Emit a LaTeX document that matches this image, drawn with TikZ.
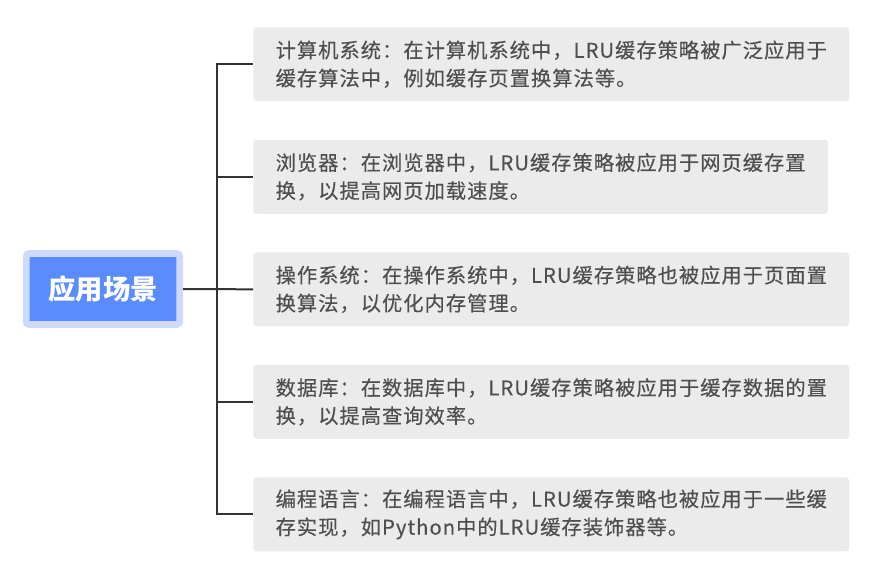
\documentclass[tikz,border=0pt]{standalone}
\usepackage{fontspec}
\usepackage{xcolor}
\usepackage{tikz}
\usetikzlibrary{positioning}
\setmainfont{Noto Sans CJK SC}
\newfontfamily\leaffont[LetterSpace=5,FakeBold=0.3]{Noto Sans CJK SC}
\definecolor{leafgray}{HTML}{EBEBEB}
\definecolor{leaftext}{HTML}{4F4F4F}
\definecolor{rootblue}{HTML}{5B8CFF}
\definecolor{rootrim}{HTML}{CDD9FE}
\definecolor{branchgray}{HTML}{333333}

\begin{document}
\begin{tikzpicture}[
  x=1pt, y=-1pt,
  node distance=28.5pt,
  scene/.style={fill=rootblue, draw=rootrim, line width=4.9pt, rounded corners=2pt,
                minimum width=115.1pt, minimum height=53.25pt, inner sep=0pt,
                text=white, font=\fontsize{20.5pt}{24pt}\selectfont\bfseries},
  usecase/.style={fill=leafgray, rounded corners=2.5pt, minimum height=55.5pt,
                  inner xsep=16.8pt, inner ysep=0pt, align=left, text=leaftext,
                  font=\leaffont\fontsize{15.2pt}{21pt}\selectfont},
  branch/.style={draw=branchgray, line width=1.5pt}
]
  \useasboundingbox (0,0) rectangle (661.5,432.75);

  \node[scene] (app) at (77.25,216.75) {应用场景};

  \node[usecase, anchor=north west] (cs) at (189.75,20.25)
    {计算机系统：在计算机系统中，LRU缓存策略被广泛应用于\\缓存算法中，例如缓存页置换算法等。};
  \node[usecase, below right=28.5pt and 0pt of cs.south west] (web)
    {浏览器：在浏览器中，LRU缓存策略被应用于网页缓存置\\换，以提高网页加载速度。};
  \node[usecase, below right=28.5pt and 0pt of web.south west] (os)
    {操作系统：在操作系统中，LRU缓存策略也被应用于页面置\\换算法，以优化内存管理。};
  \node[usecase, below right=28.5pt and 0pt of os.south west] (db)
    {数据库：在数据库中，LRU缓存策略被应用于缓存数据的置\\换，以提高查询效率。};
  \node[usecase, below right=28.5pt and 0pt of db.south west] (lang)
    {编程语言：在编程语言中，LRU缓存策略也被应用于一些缓\\存实现，如Python中的LRU缓存装饰器等。};

  % trunk of the bracket
  \path (os.west) ++(-27pt,0) coordinate (fork);
  \draw[branch] (app.east) -- (os.west);
  \foreach \leaf in {cs,web,db,lang}
    \draw[branch] (fork) |- (\leaf.west);
\end{tikzpicture}
\end{document}
